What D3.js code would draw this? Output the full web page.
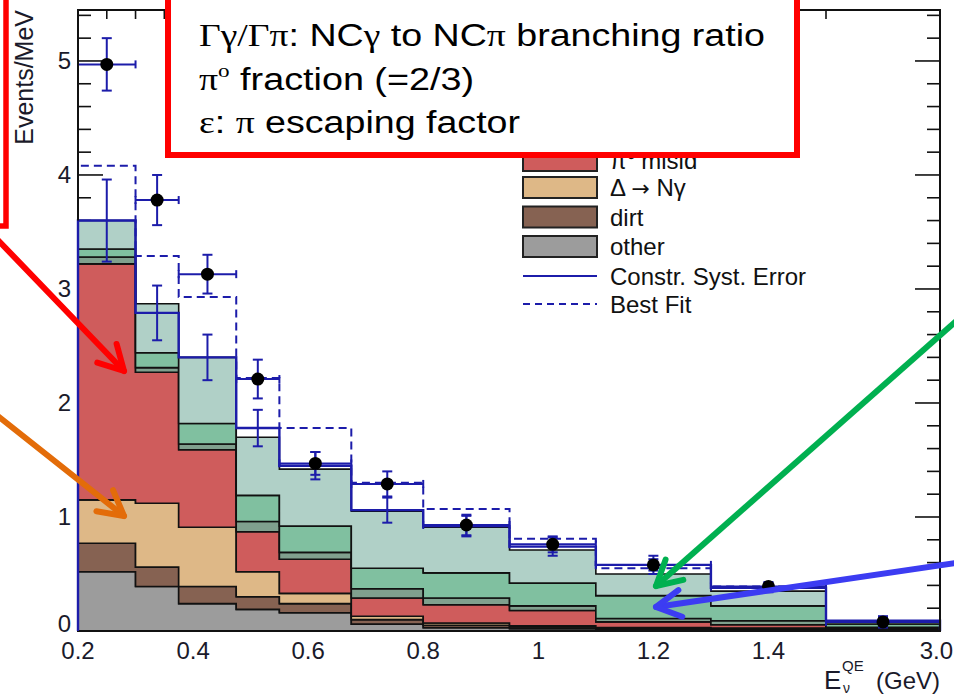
<!DOCTYPE html>
<html><head><meta charset="utf-8">
<script src="https://cdn.jsdelivr.net/npm/d3@7"></script>
<style>html,body{margin:0;padding:0;background:#fff;} svg{display:block;}</style>
</head><body><svg id="c" width="954" height="695"></svg>
<script>
// ---------- DATA ----------
const binEdges = [0.2, 0.3, 0.375, 0.475, 0.55, 0.675, 0.8, 0.95, 1.1, 1.3, 1.5, 3.0];
// stacked components, bottom to top (Events/MeV)
const other  = [0.52, 0.39, 0.24, 0.19, 0.16, 0.06, 0.03, 0.02, 0.015, 0.01, 0.005];
const dirt   = [0.25, 0.17, 0.15, 0.11, 0.08, 0.04, 0.02, 0.015, 0.01, 0.01, 0.005];
const deltaNg= [0.38, 0.56, 0.52, 0.22, 0.09, 0.03, 0.02, 0.01, 0.005, 0.005, 0.002];
const pi0Misid=[2.07, 1.15, 0.68, 0.35, 0.30, 0.16, 0.16, 0.135, 0.05, 0.03, 0.01];
const nueK0  = [0.06, 0.04, 0.05, 0.09, 0.06, 0.08, 0.06, 0.04, 0.03, 0.035, 0.01];
const nueKpm = [0.07, 0.13, 0.18, 0.23, 0.23, 0.18, 0.22, 0.20, 0.20, 0.13, 0.03];
const nueMu  = [0.25, 0.43, 0.58, 0.51, 0.50, 0.50, 0.40, 0.29, 0.19, 0.13, 0.015];
const constrVals = [3.60, 2.79, 2.40, 1.78, 1.45, 1.06, 0.92, 0.74, 0.58, 0.38, 0.09];
const constrErr  = [0.36, 0.24, 0.20, 0.16, 0.12, 0.11, 0.09, 0.08, 0.08, 0.04, 0.03];
const bestFit    = [4.08, 3.29, 2.93, 2.22, 1.78, 1.30, 1.07, 0.81, 0.55, 0.39, 0.08];
const dataVals   = [4.97, 3.78, 3.13, 2.21, 1.47, 1.29, 0.93, 0.76, 0.58, 0.39, 0.08];
const dataErr    = [0.23, 0.22, 0.17, 0.17, 0.10, 0.11, 0.09, 0.07, 0.05, 0.04, 0.05];
const xTickValues = [0.2, 0.4, 0.6, 0.8, 1.0, 1.2, 1.4, 3.0];
const xTickLabels = ["0.2", "0.4", "0.6", "0.8", "1", "1.2", "1.4", "3.0"];
const yTickValues = [0, 1, 2, 3, 4, 5];
const layerKeys   = ["other", "dirt", "delta", "pi0", "k0", "kpm", "mu"];
const layerColors = ["#9c9c9c", "#866252", "#deb887", "#cf5c5c", "#80a08e", "#80c0a0", "#b0d0c7"];
const legendLabels = ["π⁰ misid", "Δ → Nγ", "dirt", "other", "Constr. Syst. Error", "Best Fit"];
const boxLines = [
  [["Γγ/Γπ", 1], [": NC", 0], ["γ", 1], [" to NC", 0], ["π", 1], [" branching ratio", 0]],
  [["π", 1], ["o", 2], [" fraction (=2/3)", 0]],
  [["ε", 1], [": ", 0], ["π", 1], [" escaping factor", 0]]
];

// ---------- SETUP ----------
const svg = d3.select("#c");
const SANS = "'Liberation Sans', Arial, Helvetica, sans-serif";
const SERIF = "'Liberation Serif', 'Times New Roman', serif";
const BLUE = "#1c1caa";
const x = d3.scaleLinear().domain([0.2, 1.5, 3.0]).range([78, 826, 940]);
const y = d3.scaleLinear().domain([0, 5.447]).range([631, 10]);
const X0 = x(0.2), X1 = x(3.0), Y0 = y(0), Y1 = y(5.447);

// ticks (drawn underneath histograms)
const tk = svg.append("g").attr("stroke", "#111").attr("stroke-width", 1.6);
for (let v = 0; v <= 5.4001; v += 0.2) {
  const major = Math.abs(v - Math.round(v)) < 1e-6;
  const L = major ? 25 : 13;
  tk.append("line").attr("x1", X0).attr("x2", X0 + L).attr("y1", y(v)).attr("y2", y(v));
  tk.append("line").attr("x1", X1).attr("x2", X1 - L).attr("y1", y(v)).attr("y2", y(v));
}
for (let v = 0.2; v <= 1.5001; v += 0.05) {
  const major = Math.abs(v * 5 - Math.round(v * 5)) < 1e-6;
  const L = major ? 18 : 9;
  tk.append("line").attr("x1", x(v)).attr("x2", x(v)).attr("y1", Y1).attr("y2", Y1 + L);
  tk.append("line").attr("x1", x(v)).attr("x2", x(v)).attr("y1", Y0).attr("y2", Y0 - L);
}

// ---------- STACK ----------
const rows = binEdges.slice(0, -1).map((e, i) => ({
  edge: e, other: other[i], dirt: dirt[i], delta: deltaNg[i], pi0: pi0Misid[i],
  k0: nueK0[i], kpm: nueKpm[i], mu: nueMu[i]
}));
rows.push(Object.assign({}, rows[rows.length - 1], { edge: binEdges[binEdges.length - 1] }));
const stacked = d3.stack().keys(layerKeys)(rows);
const area = d3.area().curve(d3.curveStepAfter)
  .x(d => x(d.data.edge)).y0(d => y(d[0])).y1(d => y(d[1]));
svg.append("g").selectAll("path").data(stacked).join("path")
  .attr("d", area).attr("fill", (d, i) => layerColors[i])
  .attr("stroke", "#111").attr("stroke-width", 1.6).attr("stroke-linejoin", "miter");

// ---------- STEP LINES ----------
function stepPts(vals) {
  const p = [[binEdges[0], 0]];
  vals.forEach((v, i) => p.push([binEdges[i], v]));
  p.push([binEdges[binEdges.length - 1], vals[vals.length - 1]]);
  p.push([binEdges[binEdges.length - 1], 0]);
  return p;
}
const stepLine = d3.line().curve(d3.curveStepAfter).x(d => x(d[0])).y(d => y(d[1]));
svg.append("path").attr("d", stepLine(stepPts(bestFit))).attr("fill", "none")
  .attr("stroke", BLUE).attr("stroke-width", 2).attr("stroke-dasharray", "8,5");
svg.append("path").attr("d", stepLine(stepPts(constrVals))).attr("fill", "none")
  .attr("stroke", BLUE).attr("stroke-width", 2.4);

// ---------- ERROR BARS ----------
const eb = svg.append("g").attr("stroke", BLUE).attr("stroke-width", 2);
constrVals.forEach((v, i) => {
  const cx = x((binEdges[i] + binEdges[i + 1]) / 2);
  eb.append("line").attr("x1", cx).attr("x2", cx).attr("y1", y(v + constrErr[i])).attr("y2", y(v - constrErr[i]));
  [v + constrErr[i], v - constrErr[i]].forEach(t =>
    eb.append("line").attr("x1", cx - 5).attr("x2", cx + 5).attr("y1", y(t)).attr("y2", y(t)));
});
dataVals.forEach((v, i) => {
  const xa = x(binEdges[i]), xb = x(binEdges[i + 1]);
  const cx = x((binEdges[i] + binEdges[i + 1]) / 2);
  eb.append("line").attr("x1", xa).attr("x2", xb).attr("y1", y(v)).attr("y2", y(v));
  [xa, xb].forEach(xx => eb.append("line").attr("x1", xx).attr("x2", xx).attr("y1", y(v) - 4).attr("y2", y(v) + 4));
  eb.append("line").attr("x1", cx).attr("x2", cx).attr("y1", y(v + dataErr[i])).attr("y2", y(v - dataErr[i]));
  [v + dataErr[i], v - dataErr[i]].forEach(t =>
    eb.append("line").attr("x1", cx - 5).attr("x2", cx + 5).attr("y1", y(t)).attr("y2", y(t)));
});
svg.append("g").selectAll("circle").data(dataVals).join("circle")
  .attr("cx", (d, i) => x((binEdges[i] + binEdges[i + 1]) / 2)).attr("cy", d => y(d))
  .attr("r", 6.5).attr("fill", "#000");

// ---------- FRAME & LABELS ----------
svg.append("rect").attr("x", X0).attr("y", Y1).attr("width", X1 - X0).attr("height", Y0 - Y1)
  .attr("fill", "none").attr("stroke", "#111").attr("stroke-width", 2);
svg.append("line").attr("x1", X0).attr("x2", X0).attr("y1", Y0).attr("y2", y(constrVals[0]))
  .attr("stroke", BLUE).attr("stroke-width", 2);
const lab = svg.append("g").attr("font-family", SANS).attr("font-size", 24).attr("fill", "#1a1a2a");
yTickValues.forEach(v => lab.append("text").attr("x", 71).attr("y", y(v) + (v === 0 ? 1 : 8.5))
  .attr("text-anchor", "end").text(v));
xTickValues.forEach((v, i) => {
  const last = i === xTickValues.length - 1;
  lab.append("text").attr("x", last ? 953 : x(v)).attr("y", 659)
    .attr("text-anchor", last ? "end" : "middle").text(xTickLabels[i]);
});
lab.append("text").attr("transform", "translate(33,10) rotate(-90)").attr("text-anchor", "end")
  .attr("font-size", 25).text("Events/MeV");
lab.append("text").attr("x", 940).attr("y", 689).attr("text-anchor", "end").text("(GeV)");
lab.append("text").attr("x", 824).attr("y", 689).attr("font-size", 26).text("E");
lab.append("text").attr("x", 842).attr("y", 671).attr("font-size", 15).text("QE");
lab.append("text").attr("x", 843).attr("y", 693).attr("font-size", 14).text("ν");

// ---------- LEGEND ----------
const lg = svg.append("g").attr("font-family", SANS).attr("font-size", 24).attr("fill", "#111");
const rowY = [160.5, 187.5, 217, 246.5, 276, 304];
[3, 2, 1, 0].forEach((li, k) => {
  lg.append("rect").attr("x", 523).attr("y", rowY[k] - 10.5).attr("width", 74).attr("height", 21)
    .attr("fill", layerColors[li]).attr("stroke", "#222").attr("stroke-width", 2);
});
lg.append("line").attr("x1", 523).attr("x2", 597).attr("y1", rowY[4]).attr("y2", rowY[4])
  .attr("stroke", BLUE).attr("stroke-width", 2);
lg.append("line").attr("x1", 523).attr("x2", 597).attr("y1", rowY[5]).attr("y2", rowY[5])
  .attr("stroke", BLUE).attr("stroke-width", 2).attr("stroke-dasharray", "7,5");
legendLabels.forEach((t, k) => {
  const tx = lg.append("text").attr("x", 610).attr("y", rowY[k] + 8.5);
  if (k === 1) {
    tx.append("tspan").text("Δ ");
    tx.append("tspan").attr("font-family", "'DejaVu Sans', sans-serif").attr("font-size", 22).text("→");
    tx.append("tspan").text(" Nγ");
  } else tx.text(t);
});

// ---------- ANNOTATIONS ----------
svg.append("rect").attr("x", -100).attr("y", -20).attr("width", 106).attr("height", 246)
  .attr("fill", "none").attr("stroke", "#ff0000").attr("stroke-width", 5.5);
svg.append("rect").attr("x", 168).attr("y", -20).attr("width", 629).attr("height", 175)
  .attr("fill", "#fff").attr("stroke", "#ff0000").attr("stroke-width", 6);
const lineBase = [46, 90, 133];
const lineWidth = [566, 275, 321];
boxLines.forEach((parts, li) => {
  const t = svg.append("text").attr("x", 199).attr("y", lineBase[li])
    .attr("font-family", SANS).attr("font-size", 31).attr("fill", "#000");
  parts.forEach(([s, kind], j) => {
    const ts = t.append("tspan").text(s).attr("font-family", kind ? SERIF : SANS);
    if (kind === 2) ts.attr("font-size", 19).attr("dy", -13);
    else if (j > 0 && parts[j - 1][1] === 2) ts.attr("dy", 13);
  });
  t.attr("textLength", lineWidth[li]).attr("lengthAdjust", "spacingAndGlyphs");
});

function arrow(x1, y1, x2, y2, color) {
  const g = svg.append("g").attr("stroke", color).attr("stroke-width", 6)
    .attr("stroke-linecap", "round").attr("stroke-linejoin", "round").attr("fill", "none");
  g.append("line").attr("x1", x1).attr("y1", y1).attr("x2", x2).attr("y2", y2);
  const a = Math.atan2(y1 - y2, x1 - x2), L = 28, s = 0.5;
  g.append("path").attr("d",
    `M${x2 + L * Math.cos(a - s)},${y2 + L * Math.sin(a - s)} L${x2},${y2} L${x2 + L * Math.cos(a + s)},${y2 + L * Math.sin(a + s)}`);
}
arrow(-6, 236, 124, 371, "#ff0000");
arrow(-6, 413, 124, 516, "#e36c09");
arrow(962, 316, 656, 586, "#00b050");
arrow(962, 562, 656, 607, "#3c3cf2");
</script></body></html>
